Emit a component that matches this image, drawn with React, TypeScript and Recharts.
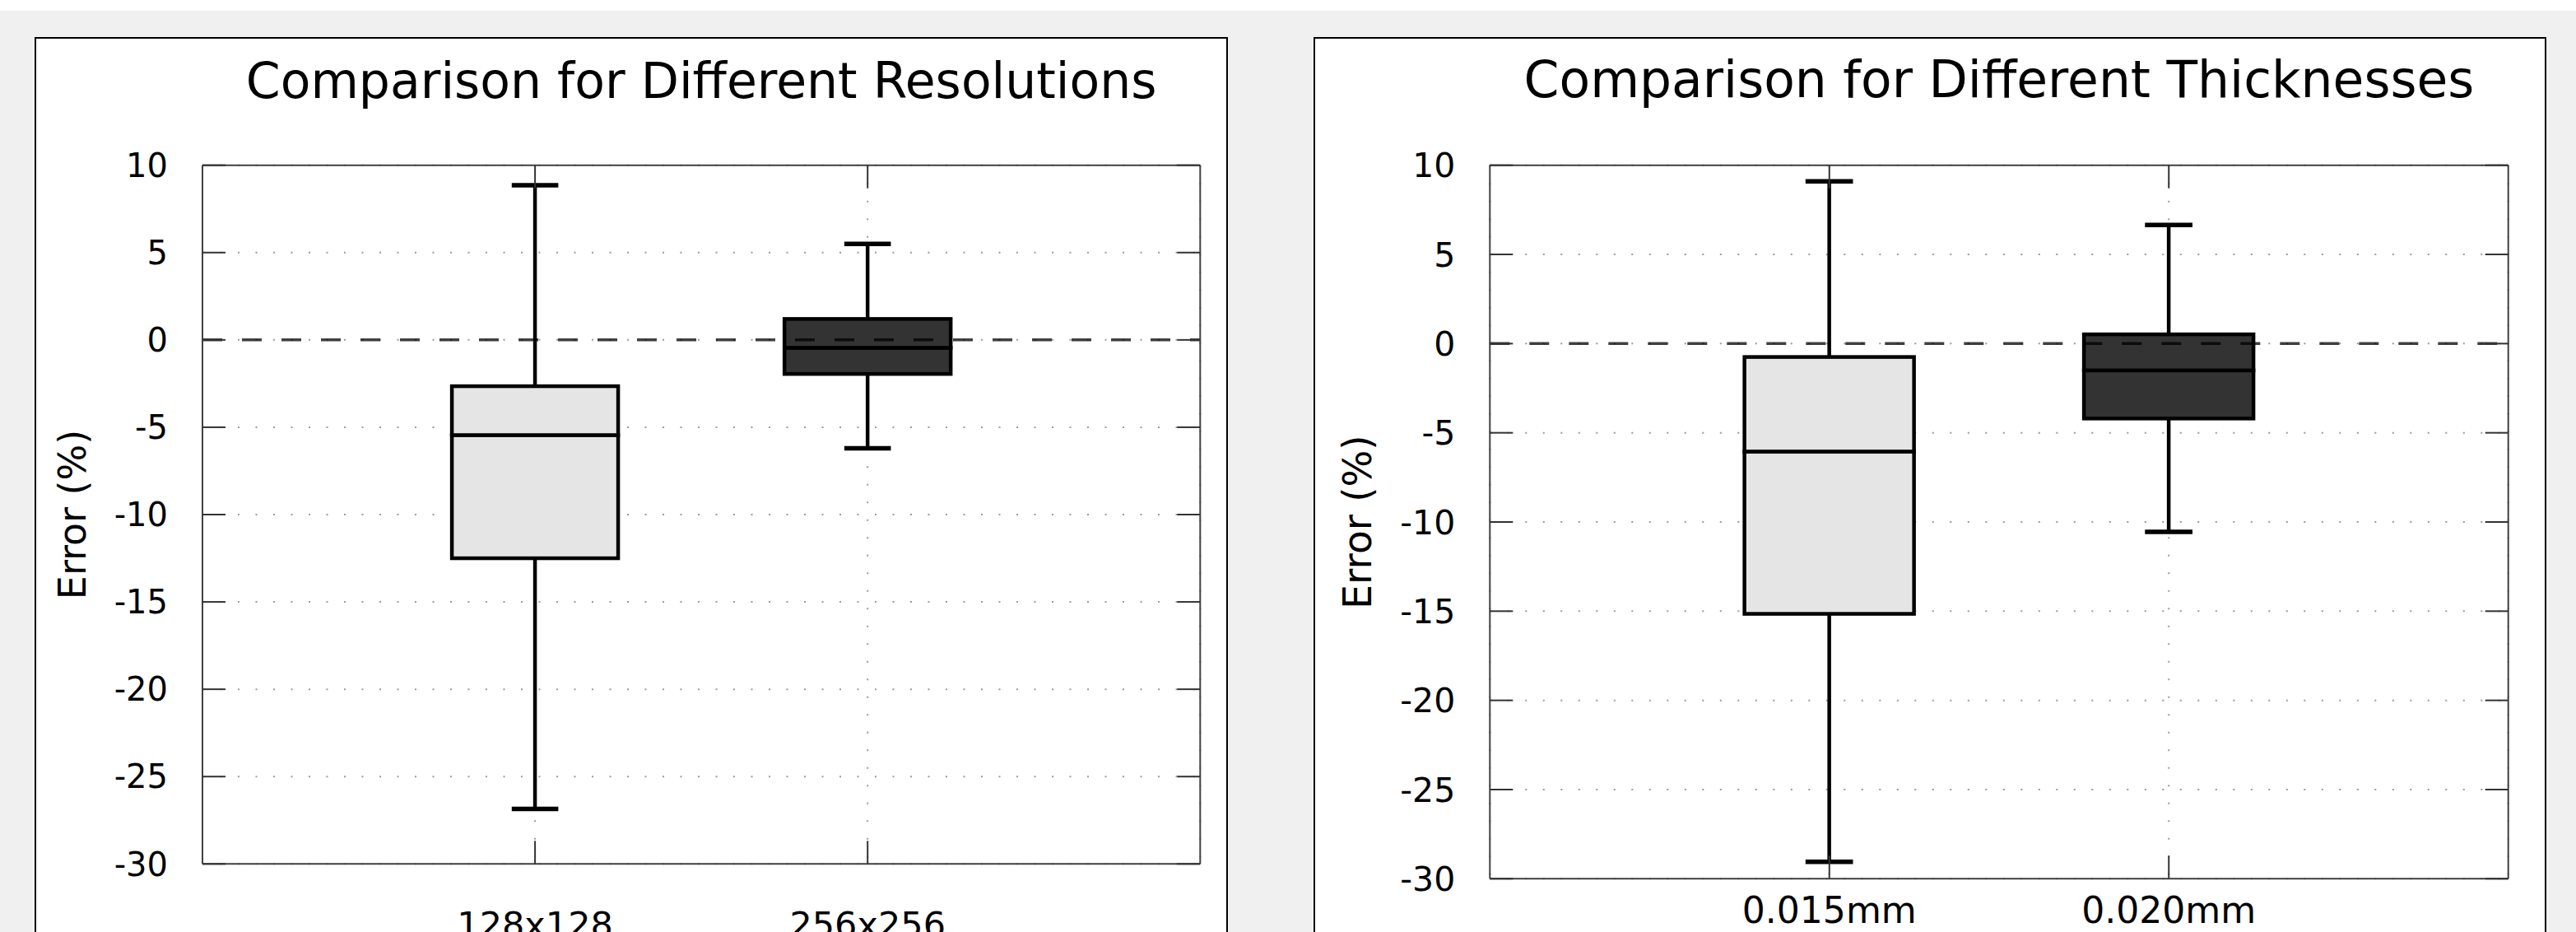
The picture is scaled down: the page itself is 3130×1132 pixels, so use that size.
import { ComposedChart, Bar, XAxis, YAxis, CartesianGrid, ReferenceLine } from 'recharts';

// box statistics (Error %)
const resolutionLabels = ['128x128', '256x256'];
const resolutionLow = [-26.85, -6.2];
const resolutionQ1 = [-12.5, -1.95];
const resolutionMedian = [-5.45, -0.45];
const resolutionQ3 = [-2.65, 1.2];
const resolutionHigh = [8.85, 5.5];

const thicknessLabels = ['0.015mm', '0.020mm'];
const thicknessLow = [-29.05, -10.55];
const thicknessQ1 = [-15.15, -4.2];
const thicknessMedian = [-6.05, -1.5];
const thicknessQ3 = [-0.75, 0.52];
const thicknessHigh = [9.1, 6.65];

const errorTicks = [-30, -25, -20, -15, -10, -5, 0, 5, 10];

const FONT = '"DejaVu Sans", sans-serif';
const BOX_FILLS = ['#e5e5e5', '#333333'];
const CHART_TOP = 45;
const CHART_HEIGHT = 1132 - CHART_TOP;
const PLOT_TOP = 155.7;

type Row = {
  name: string;
  base: number;
  lowWhisker: number;
  lowBox: number;
  highBox: number;
  highWhisker: number;
};

// stacked segments: low -> q1 -> median -> q3 -> high
const buildRows = (
  labels: string[],
  low: number[],
  q1: number[],
  med: number[],
  q3: number[],
  high: number[],
): Row[] =>
  labels.map((name, i) => ({
    name,
    base: low[i],
    lowWhisker: q1[i] - low[i],
    lowBox: med[i] - q1[i],
    highBox: q3[i] - med[i],
    highWhisker: high[i] - q3[i],
  }));

const span = (p: any) => {
  const top = Math.min(p.y, p.y + p.height);
  const bottom = Math.max(p.y, p.y + p.height);
  return { top, bottom, cx: p.x + p.width / 2, w: p.width };
};

const Nothing = () => <g />;

const LowWhisker = (props: any) => {
  const { top, bottom, cx, w } = span(props);
  const cap = w * 0.28;
  return (
    <g>
      <line x1={cx} x2={cx} y1={top} y2={bottom} stroke="#000" strokeWidth={4.5} />
      <line x1={cx - cap / 2} x2={cx + cap / 2} y1={bottom} y2={bottom} stroke="#000" strokeWidth={5.5} />
    </g>
  );
};

const HighWhisker = (props: any) => {
  const { top, bottom, cx, w } = span(props);
  const cap = w * 0.28;
  return (
    <g>
      <line x1={cx} x2={cx} y1={top} y2={bottom} stroke="#000" strokeWidth={4.5} />
      <line x1={cx - cap / 2} x2={cx + cap / 2} y1={top} y2={top} stroke="#000" strokeWidth={5.5} />
    </g>
  );
};

const BoxPart = (props: any) => {
  const { top, bottom } = span(props);
  return (
    <rect
      x={props.x}
      y={top}
      width={props.width}
      height={bottom - top}
      fill={BOX_FILLS[props.index]}
      stroke="#000"
      strokeWidth={4.5}
    />
  );
};

const yLabel = (gap: number, size: number) => (props: any) => {
  const vb = props.viewBox;
  const cx = vb.x + vb.width - gap;
  const cy = vb.y + vb.height / 2;
  return (
    <text
      x={cx}
      y={cy}
      transform={`rotate(-90 ${cx} ${cy})`}
      textAnchor="middle"
      dominantBaseline="central"
      fontSize={size}
      fontFamily={FONT}
      fill="#000"
    >
      Error (%)
    </text>
  );
};

// tick marks only, no text (for the top and right frame sides)
const NoLabel = () => <g />;

type PanelProps = {
  title: string;
  rows: Row[];
  left: number;
  width: number;
  axisWidth: number;
  rightMargin: number;
  plotHeight: number;
  labelMargin: number;
  labelGap: number;
  scale: number;
};

const Panel = ({ title, rows, left, width, axisWidth, rightMargin, plotHeight, labelMargin, labelGap, scale }: PanelProps) => {
  const plotWidth = width - axisWidth - rightMargin;
  const pad = plotWidth / 6;
  const xAxisHeight = CHART_HEIGHT - PLOT_TOP - plotHeight;
  const axisStroke = { stroke: '#404040', strokeWidth: 2 };
  const tickStroke = { stroke: '#333', strokeWidth: 2 };
  return (
    <>
      <div
        style={{
          position: 'absolute',
          left,
          top: CHART_TOP,
          width,
          height: 1200,
          boxSizing: 'border-box',
          border: '2px solid #000',
          background: '#fff',
        }}
      />
      <div
        style={{
          position: 'absolute',
          left: left + axisWidth,
          top: 67.7 - (scale - 1) * 30,
          width: plotWidth,
          textAlign: 'center',
          fontFamily: FONT,
          fontSize: 60 * scale,
          lineHeight: `${60 * scale}px`,
          color: '#000',
          whiteSpace: 'nowrap',
        }}
      >
        {title}
      </div>
      <div style={{ position: 'absolute', left, top: CHART_TOP }}>
        <ComposedChart
          width={width}
          height={CHART_HEIGHT}
          data={rows}
          margin={{ top: PLOT_TOP - 1, right: rightMargin - 1, left: 0, bottom: 0 }}
          barCategoryGap="25%"
        >
          <CartesianGrid
            xAxisId="b"
            yAxisId="l"
            stroke="#9a9a9a"
            strokeWidth={2}
            strokeDasharray="2 19.5"
          />
          <XAxis
            xAxisId="b"
            dataKey="name"
            orientation="bottom"
            height={xAxisHeight}
            padding={{ left: pad, right: pad }}
            interval={0}
            tickSize={-28}
            tickMargin={labelMargin}
            tick={{ fontSize: 43 * scale, fill: '#000', fontFamily: FONT }}
            tickLine={tickStroke}
            axisLine={axisStroke}
          />
          <XAxis
            xAxisId="t"
            dataKey="name"
            orientation="top"
            height={1}
            padding={{ left: pad, right: pad }}
            interval={0}
            tickSize={-28}
            tick={NoLabel}
            tickLine={tickStroke}
            axisLine={axisStroke}
          />
          <YAxis
            yAxisId="l"
            type="number"
            domain={[-30, 10]}
            ticks={errorTicks}
            interval={0}
            allowDataOverflow
            width={axisWidth}
            tickSize={-28}
            tickMargin={70}
            tick={{ fontSize: 40 * scale, fill: '#000', fontFamily: FONT }}
            tickLine={tickStroke}
            axisLine={axisStroke}
            label={yLabel(labelGap, 46 * scale)}
          />
          <YAxis
            yAxisId="r"
            orientation="right"
            type="number"
            domain={[-30, 10]}
            ticks={errorTicks}
            interval={0}
            allowDataOverflow
            width={1}
            tickSize={-28}
            tick={NoLabel}
            tickLine={tickStroke}
            axisLine={axisStroke}
          />
          <Bar dataKey="base" stackId="box" xAxisId="b" yAxisId="l" shape={Nothing} isAnimationActive={false} />
          <Bar dataKey="lowWhisker" stackId="box" xAxisId="b" yAxisId="l" shape={LowWhisker} isAnimationActive={false} />
          <Bar dataKey="lowBox" stackId="box" xAxisId="b" yAxisId="l" shape={BoxPart} isAnimationActive={false} />
          <Bar dataKey="highBox" stackId="box" xAxisId="b" yAxisId="l" shape={BoxPart} isAnimationActive={false} />
          <Bar dataKey="highWhisker" stackId="box" xAxisId="b" yAxisId="l" shape={HighWhisker} isAnimationActive={false} />
          <ReferenceLine
            y={0}
            xAxisId="b"
            yAxisId="l"
            stroke="#000"
            strokeOpacity={0.75}
            strokeWidth={3.5}
            strokeDasharray="24 24"
          />
        </ComposedChart>
      </div>
    </>
  );
};

const resolutionRows = buildRows(
  resolutionLabels,
  resolutionLow,
  resolutionQ1,
  resolutionMedian,
  resolutionQ3,
  resolutionHigh,
);
const thicknessRows = buildRows(
  thicknessLabels,
  thicknessLow,
  thicknessQ1,
  thicknessMedian,
  thicknessQ3,
  thicknessHigh,
);

export default function App() {
  return (
    <div
      style={{
        position: 'absolute',
        left: 0,
        top: 0,
        width: 3130,
        height: 1132,
        overflow: 'hidden',
        background: '#f0f0f0',
        borderTop: '13px solid #fff',
        boxSizing: 'border-box',
      }}
    >
      <div style={{ position: 'absolute', left: 0, top: -13, width: 3130, height: 1132 }}>
        <Panel
          title="Comparison for Different Resolutions"
          rows={resolutionRows}
          left={42}
          width={1450}
          axisWidth={204}
          rightMargin={33.7}
          plotHeight={848.6}
          labelMargin={86}
          labelGap={158}
          scale={1}
        />
        <Panel
          title="Comparison for Different Thicknesses"
          rows={thicknessRows}
          left={1596}
          width={1498}
          axisWidth={214.3}
          rightMargin={46.3}
          plotHeight={866.6}
          labelMargin={50}
          labelGap={161}
          scale={1.025}
        />
      </div>
    </div>
  );
}
